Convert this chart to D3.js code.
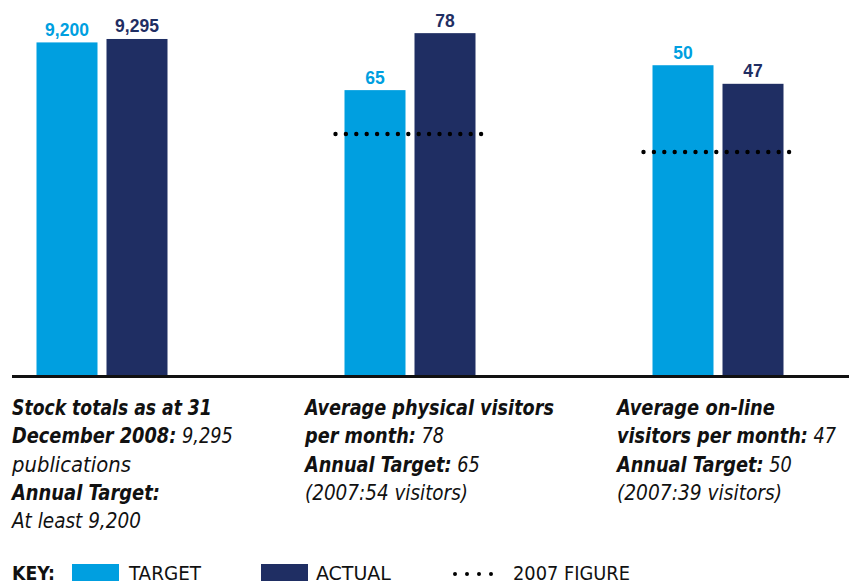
<!DOCTYPE html>
<html>
<head>
<meta charset="utf-8">
<script src="https://cdn.jsdelivr.net/npm/d3@7"></script>
<style>
  body { margin: 0; background: #fff; }
  svg { display: block; }
  text { font-family: "Liberation Sans Narrow", "DejaVu Sans Condensed", sans-serif; fill: #111; }
</style>
</head>
<body>
<div id="wrapper"></div>
<script>
// data
const groups = ["stock", "physical", "online"]
const targetValues = [9200, 65, 50]
const actualValues = [9295, 78, 47]
const figure2007 = [null, 55, 36]   // dotted line as drawn
const scaleMax = [9820, 81, 57.3]   // each group has its own vertical scale

const captions = [
  [[["Stock totals as at 31", true]],
   [["December 2008:", true], [" 9,295", false]],
   [["publications", false]],
   [["Annual Target:", true]],
   [["At least 9,200", false]]],
  [[["Average physical visitors", true]],
   [["per month:", true], [" 78", false]],
   [["Annual Target:", true], [" 65", false]],
   [["(2007:54 visitors)", false]]],
  [[["Average on-line", true]],
   [["visitors per month:", true], [" 47", false]],
   [["Annual Target:", true], [" 50", false]],
   [["(2007:39 visitors)", false]]],
]
const captionWidths = [
  [200, 221, 119, 148, 129],
  [249, 139, 175, 163],
  [158, 219, 175, 165],
]
const keyItems = ["TARGET", "ACTUAL", "2007 FIGURE"]

const colors = { target: "#009fe0", actual: "#1f2e63" }

// dimensions
const dimensions = { width: 849, height: 581, baseline: 375, top: 20 }

const svg = d3.select("#wrapper").append("svg")
  .attr("width", dimensions.width)
  .attr("height", dimensions.height)

// squeeze a text horizontally so it takes the given width
function fitWidth(sel, x, y, w) {
  const len = sel.node().getComputedTextLength()
  sel.attr("transform", `translate(${x},${y}) scale(${w / len},1)`)
}

// scales
const xGroup = d3.scalePoint()
  .domain(groups)
  .range([102, 718])

const xInner = d3.scaleBand()
  .domain(["target", "actual"])
  .range([-65.5, 65.5])
  .paddingInner(0.1286)

const yScales = scaleMax.map(m => d3.scaleLinear()
  .domain([0, m])
  .range([dimensions.baseline, dimensions.top]))

const fmt = d3.format(",")

const bars = groups.flatMap((g, i) => [
  { g, i, key: "target", value: targetValues[i] },
  { g, i, key: "actual", value: actualValues[i] },
])

const bounds = svg.append("g")

bounds.selectAll("rect.bar")
  .data(bars)
  .join("rect")
  .attr("class", "bar")
  .attr("x", d => xGroup(d.g) + xInner(d.key))
  .attr("width", xInner.bandwidth())
  .attr("y", d => yScales[d.i](d.value))
  .attr("height", d => dimensions.baseline - yScales[d.i](d.value))
  .attr("fill", d => colors[d.key])

bounds.selectAll("text.val")
  .data(bars)
  .join("text")
  .attr("class", "val")
  .attr("x", d => xGroup(d.g) + xInner(d.key) + xInner.bandwidth() / 2)
  .attr("y", d => yScales[d.i](d.value) - 6.5)
  .attr("text-anchor", "middle")
  .style("font-family", "'Liberation Sans', Arial, sans-serif")
  .style("font-weight", "bold")
  .style("font-size", "17.5px")
  .style("fill", d => colors[d.key])
  .text(d => fmt(d.value))

// 2007 dotted lines
const dotted = groups.map((g, i) => ({ g, i, value: figure2007[i] })).filter(d => d.value != null)
bounds.selectAll("line.prior")
  .data(dotted)
  .join("line")
  .attr("class", "prior")
  .attr("x1", d => xGroup(d.g) + xInner("target") - 9)
  .attr("x2", d => xGroup(d.g) + xInner("actual") + xInner.bandwidth() + 8)
  .attr("y1", d => yScales[d.i](d.value))
  .attr("y2", d => yScales[d.i](d.value))
  .attr("stroke", "#000")
  .attr("stroke-width", 4.4)
  .attr("stroke-linecap", "round")
  .attr("stroke-dasharray", "0,10.4")

// baseline
svg.append("line")
  .attr("x1", 12).attr("x2", dimensions.width)
  .attr("y1", dimensions.baseline + 1.5).attr("y2", dimensions.baseline + 1.5)
  .attr("stroke", "#111")
  .attr("stroke-width", 3)

// captions
const captionX = [12, 305, 617]
const lineY = d3.range(5).map(k => 415 + k * 28.3)

captions.forEach((block, bi) => {
  block.forEach((line, li) => {
    const t = svg.append("text")
      .style("font-size", "22px")
      .style("font-style", "italic")
    line.forEach(([s, bold]) => {
      t.append("tspan")
        .style("font-weight", bold ? "bold" : "normal")
        .text(s)
    })
    fitWidth(t, captionX[bi], lineY[li], captionWidths[bi][li])
  })
})

// key
const keyY = 580
const keyTitle = svg.append("text")
  .style("font-size", "20px").style("font-weight", "bold")
  .text("KEY:")
fitWidth(keyTitle, 12, keyY, 43)

const keyX = [72, 261, 453]
const keyTextX = [129, 316, 513]
const keyTextW = [72, 75, 117]

svg.selectAll("rect.key")
  .data(["target", "actual"])
  .join("rect")
  .attr("class", "key")
  .attr("x", (d, i) => keyX[i])
  .attr("y", 564)
  .attr("width", 47)
  .attr("height", 20)
  .attr("fill", d => colors[d])

svg.append("line")
  .attr("x1", keyX[2] + 2).attr("x2", keyX[2] + 50)
  .attr("y1", 574).attr("y2", 574)
  .attr("stroke", "#000")
  .attr("stroke-width", 4)
  .attr("stroke-linecap", "round")
  .attr("stroke-dasharray", "0,12")

svg.selectAll("text.keylabel")
  .data(keyItems)
  .join("text")
  .attr("class", "keylabel")
  .style("font-size", "20px")
  .text(d => d)
  .each(function (d, i) { fitWidth(d3.select(this), keyTextX[i], keyY, keyTextW[i]) })
</script>
</body>
</html>
